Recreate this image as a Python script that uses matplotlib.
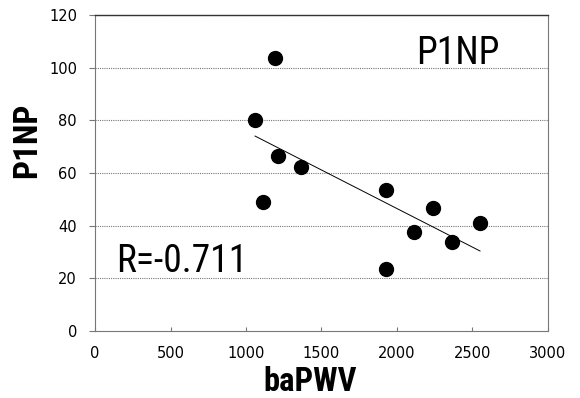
import numpy as np
import matplotlib
matplotlib.use('Agg')
import matplotlib.pyplot as plt

# DATA
bapwv = [1060, 1192, 1212, 1364, 1113, 1927, 1927, 2113, 2238, 2364, 2550]
p1np = [80, 103.7, 66.5, 62.3, 49, 53.5, 23.5, 37.6, 46.7, 33.8, 41]
x_ticks = [0, 500, 1000, 1500, 2000, 2500, 3000]
y_ticks = [0, 20, 40, 60, 80, 100, 120]
r_text = 'R=-0.711'

narrow = ['Roboto Condensed', 'Liberation Sans Narrow', 'DejaVu Sans']

fig = plt.figure(figsize=(5.8, 3.98), dpi=100)
fig.patch.set_facecolor('white')
ax = fig.add_axes([0.1638, 0.1683, 0.781, 0.794])

# grid lines
for yv in y_ticks[1:]:
    ax.axhline(yv, color='#777777', lw=0.8, ls=(0, (1, 1)), zorder=1)

ax.scatter(bapwv, p1np, s=100, color='black', zorder=3)

# trend line
k, b = np.polyfit(bapwv, p1np, 1)
xs = np.array([min(bapwv), max(bapwv)])
ax.plot(xs, k * xs + b, color='black', lw=0.7, zorder=2)

ax.set_xlim(0, 3000)
ax.set_ylim(0, 120)
ax.set_xticks(x_ticks)
ax.set_yticks(y_ticks)
ax.tick_params(axis='x', direction='in', length=3, color='#777777', pad=11, labelsize=10.5)
ax.tick_params(axis='y', direction='out', length=4, color='#777777', pad=9, labelsize=10.5)

for side in ['left', 'right', 'bottom']:
    ax.spines[side].set_color('#777777')
    ax.spines[side].set_linestyle((0, (1, 1)))
    ax.spines[side].set_linewidth(0.8)
ax.spines['top'].set_color('#333333')
ax.spines['top'].set_linewidth(1.0)

# axis titles
ax.text(0.475, -0.19, 'baPWV', transform=ax.transAxes, fontsize=23.5, fontweight='bold',
        family=narrow, fontstretch='condensed', ha='center', va='baseline')
ax.text(-0.150, 0.604, 'P1NP', transform=ax.transAxes, fontsize=24, fontweight='bold',
        family=narrow, fontstretch='condensed', ha='center', va='center', rotation=90)

# annotations
ax.text(2400, 105.5, 'P1NP', fontsize=27, family=narrow,
        fontstretch='condensed', ha='center', va='center')
ax.text(140, 26.4, r_text, fontsize=27, family=narrow,
        fontstretch='condensed', ha='left', va='center')

plt.savefig('out.png', dpi=100)
